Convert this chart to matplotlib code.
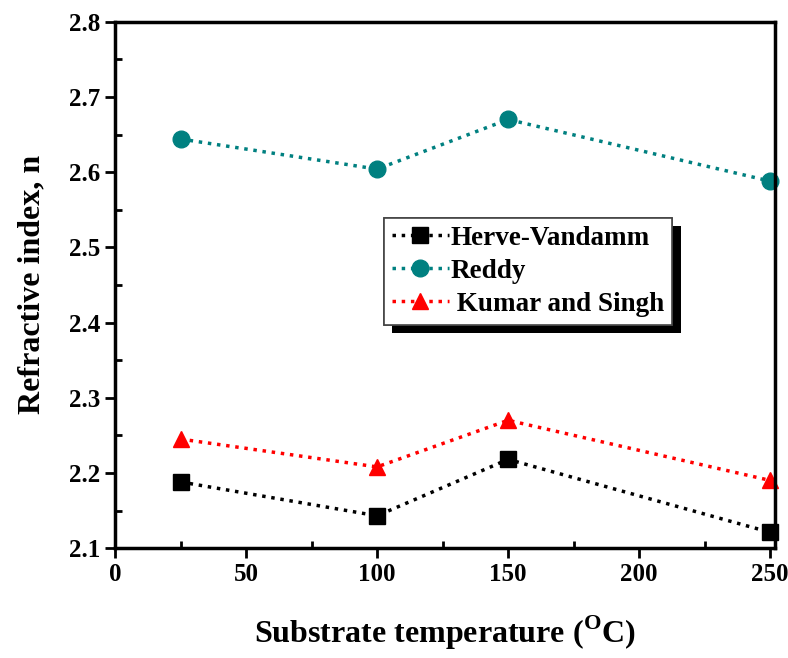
import matplotlib
matplotlib.use("Agg")
import matplotlib.pyplot as plt
import matplotlib.patheffects as pe
from matplotlib.ticker import MultipleLocator

plt.rcParams['font.family'] = ['Liberation Serif', 'DejaVu Serif']
plt.rcParams['font.weight'] = 'bold'
plt.rcParams['mathtext.fontset'] = 'custom'
plt.rcParams['mathtext.rm'] = 'Liberation Serif:bold'
plt.rcParams['mathtext.bf'] = 'Liberation Serif:bold'

# data
temps = [25, 100, 150, 250]
herve = [2.188, 2.143, 2.218, 2.121]
reddy = [2.644, 2.604, 2.670, 2.588]
kumar = [2.245, 2.208, 2.270, 2.190]

fig = plt.figure(figsize=(7.88, 6.58), dpi=100)
ax = fig.add_axes([0.146, 0.167, 0.838, 0.800])

ax.plot(temps, herve, color='black', linestyle=':', lw=2.5, marker='s',
        ms=11, label='Herve-Vandamm', clip_on=False)
ax.plot(temps, reddy, color='#008080', linestyle=':', lw=2.5, marker='o',
        ms=12, label='Reddy', clip_on=False)
ax.plot(temps, kumar, color='red', linestyle=':', lw=2.5, marker='^',
        ms=12, label=' Kumar and Singh', clip_on=False)

ax.set_xlim(0, 252)
ax.set_ylim(2.1, 2.8)
ax.xaxis.set_major_locator(MultipleLocator(50))
ax.xaxis.set_minor_locator(MultipleLocator(25))
ax.yaxis.set_major_locator(MultipleLocator(0.1))
ax.yaxis.set_minor_locator(MultipleLocator(0.05))
ax.tick_params(which='major', direction='out', length=7, width=2, labelsize=18)
ax.tick_params(which='minor', direction='in', length=5, width=2)
for s in ax.spines.values():
    s.set_linewidth(2.5)

ax.set_xlabel('Substrate temperature ($^{\\mathbf{O}}$C)', fontsize=23,
              fontweight='bold', labelpad=20)
ax.set_ylabel('Refractive index, n', fontsize=23, fontweight='bold', labelpad=16)

# legend with a hard black drop shadow
leg = ax.legend(loc='upper left', bbox_to_anchor=(0.407, 0.628), borderaxespad=0,
                fontsize=19.5, fancybox=False, edgecolor='#444444', framealpha=1,
                handlelength=2.1, handletextpad=0.05, labelspacing=0.3,
                borderpad=0.3)
leg.get_frame().set_linewidth(1.2)
leg.get_frame().set_path_effects([
    pe.withSimplePatchShadow(offset=(6, -6), shadow_rgbFace='black', alpha=1.0),
    pe.Normal()])

fig.savefig('out.png', dpi=100)
